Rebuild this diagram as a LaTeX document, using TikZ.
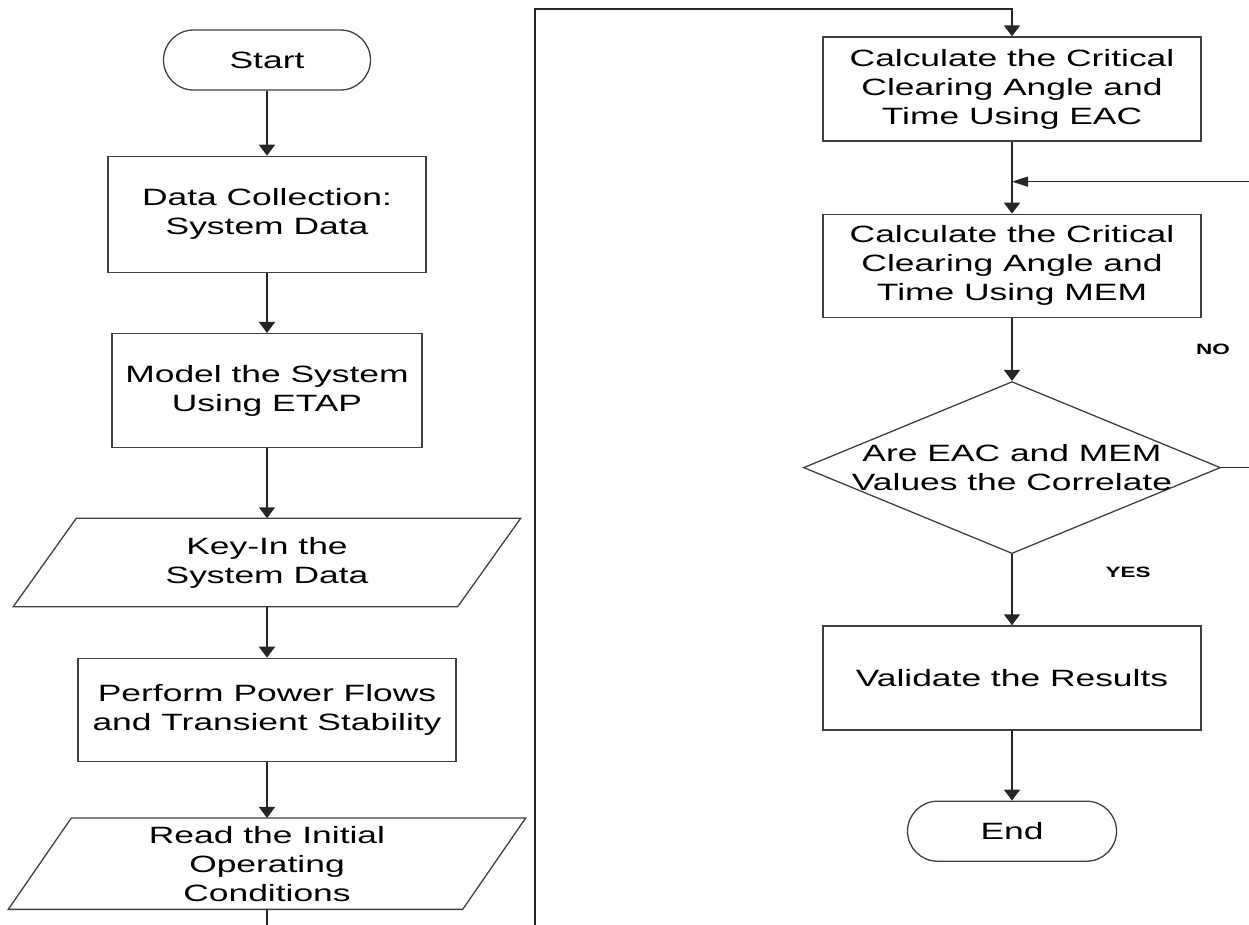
\documentclass[tikz,border=0pt]{standalone}
\usepackage{fontspec}
\setmainfont[FakeStretch=1.5]{Liberation Sans}
\usetikzlibrary{shapes.geometric, shapes.misc, arrows.meta, positioning, calc}

\begin{document}
\begin{tikzpicture}[
  x=1pt, y=-1pt,
  node distance=60pt,
  every node/.style={font=\fontsize{23.6pt}{29pt}\selectfont, align=center, inner xsep=4pt, inner ysep=2pt},
  term/.style={rounded rectangle, draw=black!75, line width=1.3pt, minimum width=215pt, minimum height=60pt},
  box/.style={rectangle, draw=black!75, line width=1.3pt, minimum width=378pt, minimum height=104pt},
  io/.style={rectangle, minimum width=444pt, minimum height=88pt},
  decision/.style={diamond, draw=black!75, line width=1.3pt, minimum width=417pt, minimum height=172pt, inner sep=0pt},
  tag/.style={font=\fontsize{15pt}{18pt}\selectfont\bfseries},
  arrow/.style={-{Triangle[length=11pt, width=16pt]}, line width=1.6pt, draw=black!85}
]

\path[use as bounding box, clip] (0,0) rectangle (1249,924);

% left column
\node (start) [term] at (267,60) {Start};
\node (data) [box, below=65pt of start, minimum width=318pt, minimum height=116pt] {Data Collection:\\System Data};
\node (model) [box, below=60pt of data, minimum width=310pt, minimum height=114pt] {Model the System\\Using ETAP};
\node (keyin) [io, below=70pt of model] {Key-In the\\System Data};
\node (perform) [box, below=51pt of keyin, minimum height=103pt] {Perform Power Flows\\and Transient Stability};
\node (read) [io, below=56pt of perform, minimum width=454pt, minimum height=91pt] {Read the Initial\\Operating\\Conditions};

% right column
\node (eac) [box] at (1012,89) {Calculate the Critical\\Clearing Angle and\\Time Using EAC};
\node (mem) [box, below=72pt of eac, minimum height=103pt] {Calculate the Critical\\Clearing Angle and\\Time Using MEM};
\node (check) [decision, below=63pt of mem, label={center:{Are EAC and MEM\\Values the Correlate}}] {};
\node (valid) [box, below=71pt of check] {Validate the Results};
\node (end) [term, below=70pt of valid, minimum width=217pt] {End};

\node (no) [tag] at (1213,349) {NO};
\node (yes) [tag] at (1128,572) {YES};

% input/output blocks
\foreach \n in {keyin, read}
  \draw[draw=black!75, line width=1.3pt] ([xshift=31.5pt]\n.north west) -- ([xshift=31.5pt]\n.north east)
    -- ([xshift=-31.5pt]\n.south east) -- ([xshift=-31.5pt]\n.south west) -- cycle;

\coordinate [below=40pt of eac] (join);

\draw [arrow] (start) -- (data);
\draw [arrow] (data) -- (model);
\draw [arrow] (model) -- (keyin);
\draw [arrow] (keyin) -- (perform);
\draw [arrow] (perform) -- (read);
\draw [arrow] (read.south) -- ++(0,40) -| (535,9) -| (eac);

\draw [arrow] (eac) -- (mem);
\draw [arrow] (mem) -- (check);
\draw [arrow] (check) -- (valid);
\draw [arrow] (valid) -- (end);
\draw [arrow, -{Triangle[length=16pt, width=10pt]}] (check.east) -- ++(50,0) |- (join);

\end{tikzpicture}
\end{document}
